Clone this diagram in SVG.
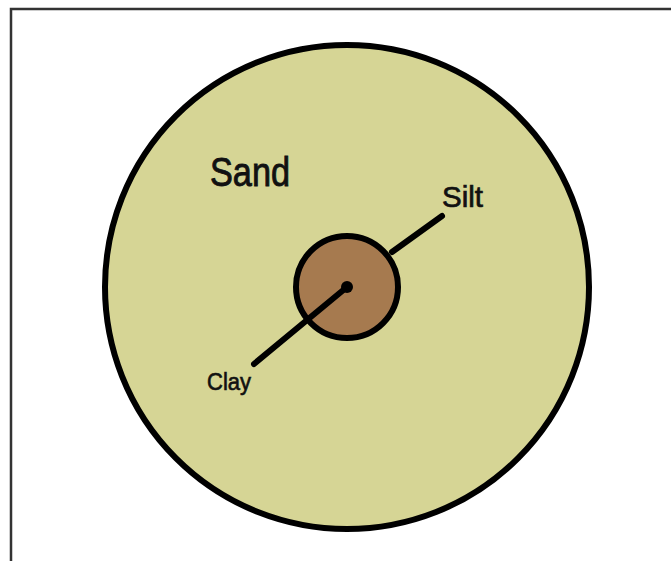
<svg xmlns="http://www.w3.org/2000/svg" width="671" height="561" viewBox="0 0 671 561">
<style>
.lbl{font-family:"Liberation Sans",Arial,sans-serif;fill:#111;stroke:#111;stroke-width:0.9;}
.ln{stroke:#000;stroke-width:6;stroke-linecap:round;fill:none;}
</style>
<rect width="671" height="561" fill="#fff"/>
<path d="M11,561 V9 H671" fill="none" stroke="#333" stroke-width="2.5"/>
<g id="sand">
<circle cx="347" cy="287" r="242" fill="#d6d595" stroke="#000" stroke-width="6"/>
<text class="lbl" x="210" y="186" font-size="40" textLength="80" lengthAdjust="spacingAndGlyphs">Sand</text>
</g>
<g id="silt">
<circle cx="347" cy="287" r="51" fill="#a67a4f" stroke="#000" stroke-width="6"/>
</g>
<g id="connectors">
<line class="ln" x1="347" y1="287" x2="254" y2="364"/>
<line class="ln" x1="392" y1="252" x2="442" y2="216"/>
<circle cx="347" cy="287" r="6" fill="#000"/>
</g>
<g id="labels">
<text class="lbl" x="442" y="207" font-size="29" textLength="41" lengthAdjust="spacingAndGlyphs" style="stroke-width:0.7">Silt</text>
<text class="lbl" x="207" y="390" font-size="23" textLength="44" lengthAdjust="spacingAndGlyphs" style="stroke-width:0.6">Clay</text>
</g>
</svg>
